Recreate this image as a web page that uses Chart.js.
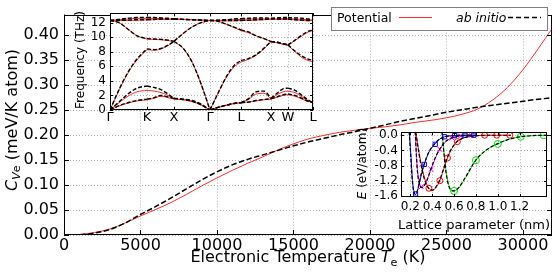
<!DOCTYPE html>
<html>
<head>
<meta charset="utf-8">
<script src="https://cdn.jsdelivr.net/npm/chart.js@4.4.1/dist/chart.umd.min.js"></script>
<style>
  html, body { margin: 0; padding: 0; background: #fff; }
  #wrap { position: relative; width: 556px; height: 278px; }
  canvas { position: absolute; }
</style>
</head>
<body>
<div id="wrap">
  <canvas id="main" width="556" height="278" style="left:0;top:0"></canvas>
  <canvas id="bands" width="256" height="126" style="left:66px;top:2px"></canvas>
  <canvas id="morse" width="200" height="114" style="left:352px;top:122px"></canvas>
</div>
<script>
const FONT = '"DejaVu Sans", sans-serif';

// ── main panel: electronic heat capacity ─────────────────────────────────────
const tempK = [0, 1000, 2000, 3000, 4000, 5000, 6000, 7000, 8000, 9000, 10000,
  11000, 12000, 13000, 14000, 15000, 16000, 17000, 18000, 19000, 20000,
  21000, 22000, 23000, 24000, 25000, 26000, 27000, 28000, 29000, 30000, 31000, 31900];
const cvPotential = [0, 0.001, 0.005, 0.012, 0.024, 0.038, 0.051, 0.065, 0.081, 0.098, 0.114,
  0.129, 0.143, 0.156, 0.170, 0.182, 0.192, 0.199, 0.205, 0.209, 0.213,
  0.216, 0.220, 0.225, 0.229, 0.234, 0.241, 0.251, 0.269, 0.295, 0.330, 0.372, 0.412];
const cvAbInitio = [0, 0.0005, 0.004, 0.011, 0.024, 0.041, 0.057, 0.074, 0.092, 0.110, 0.126,
  0.140, 0.151, 0.160, 0.169, 0.178, 0.186, 0.193, 0.200, 0.206, 0.213,
  0.220, 0.227, 0.233, 0.239, 0.245, 0.250, 0.255, 0.259, 0.263, 0.267, 0.271, 0.274];
const tempTicks = [0, 5000, 10000, 15000, 20000, 25000, 30000];
const cvTicks = [0, 0.05, 0.10, 0.15, 0.20, 0.25, 0.30, 0.35, 0.40];

// ── inset 1: phonon dispersion ───────────────────────────────────────────────
const pathX = [0, 9, 18, 27, 37, 44, 51, 58, 64, 73, 82, 91, 100, 108, 116, 124, 131,
  139, 146, 154, 161, 167, 173, 178, 185, 192, 198, 203];
const segEnds = [0, 4, 8, 12, 16, 20, 23, 27];
const symPos = [0, 37, 64, 100, 131, 161, 178, 203];
const symLabels = ['Γ', 'K', 'X', 'Γ', 'L', 'X', 'W', 'L'];
const freqTicks = [0, 2, 4, 6, 8, 10, 12];

const bandsAbInitio = [
  [12.3, 12.45, 12.6, 12.7, 12.7, 12.7, 12.65, 12.6, 12.5, 12.45, 12.4, 12.35, 12.3, 12.35, 12.4, 12.5, 12.55, 12.6, 12.65, 12.65, 12.6, 12.65, 12.7, 12.7, 12.65, 12.6, 12.5, 12.45],
  [12.3, 12.3, 12.35, 12.4, 12.4, 12.45, 12.5, 12.5, 12.5, 12.45, 12.4, 12.35, 12.3, 12.3, 12.3, 12.3, 12.3, 12.35, 12.4, 12.45, 12.5, 12.5, 12.5, 12.5, 12.4, 12.35, 12.3, 12.3],
  [12.3, 12.0, 11.1, 10.2, 9.8, 9.75, 9.7, 9.6, 9.45, 10.5, 11.4, 12.0, 12.3, 12.2, 11.8, 11.4, 11.0, 10.7, 10.2, 9.8, 9.4, 9.3, 9.1, 8.95, 9.6, 10.3, 10.8, 11.0],
  [0, 2.8, 5.2, 7.0, 8.4, 8.3, 8.45, 8.9, 9.45, 8.5, 6.6, 3.6, 0, 2.3, 4.5, 6.1, 6.8, 7.1, 7.6, 8.5, 9.4, 9.3, 9.1, 8.95, 8.1, 7.4, 7.0, 6.85],
  [0, 1.1, 2.2, 3.0, 3.3, 3.1, 2.8, 2.2, 1.6, 1.5, 1.3, 0.8, 0, 0.35, 0.65, 0.9, 1.0, 1.6, 2.5, 2.6, 1.6, 2.3, 2.9, 3.0, 2.7, 2.0, 1.4, 1.0],
  [0, 0.6, 1.0, 1.3, 1.5, 1.7, 2.0, 1.8, 1.6, 1.45, 1.2, 0.7, 0, 0.35, 0.65, 0.9, 1.0, 1.1, 1.3, 1.45, 1.55, 1.8, 2.1, 2.2, 2.0, 1.6, 1.2, 1.0],
];
const bandsPotential = [
  [12.3, 12.4, 12.5, 12.6, 12.6, 12.6, 12.55, 12.5, 12.5, 12.45, 12.4, 12.35, 12.3, 12.3, 12.35, 12.4, 12.45, 12.5, 12.5, 12.5, 12.5, 12.5, 12.55, 12.55, 12.5, 12.45, 12.4, 12.35],
  [12.3, 12.3, 12.3, 12.35, 12.4, 12.4, 12.45, 12.45, 12.5, 12.45, 12.4, 12.35, 12.3, 12.25, 12.25, 12.25, 12.3, 12.3, 12.35, 12.4, 12.5, 12.45, 12.45, 12.45, 12.4, 12.3, 12.25, 12.3],
  [12.3, 12.0, 11.1, 10.2, 9.75, 9.7, 9.65, 9.55, 9.4, 10.5, 11.4, 12.0, 12.3, 12.2, 11.8, 11.35, 10.9, 10.6, 10.2, 9.8, 9.4, 9.25, 9.05, 8.9, 9.55, 10.2, 10.7, 10.9],
  [0, 2.7, 5.1, 6.9, 8.3, 8.2, 8.4, 8.85, 9.4, 8.5, 6.6, 3.6, 0, 2.3, 4.4, 5.9, 6.6, 7.0, 7.5, 8.4, 9.4, 9.25, 9.05, 8.9, 8.0, 7.2, 6.8, 6.6],
  [0, 1.0, 1.9, 2.5, 2.7, 2.6, 2.4, 2.0, 1.5, 1.45, 1.25, 0.75, 0, 0.35, 0.65, 0.9, 1.0, 1.5, 2.2, 2.3, 1.5, 2.1, 2.5, 2.6, 2.4, 1.8, 1.3, 1.0],
  [0, 0.55, 0.95, 1.25, 1.4, 1.6, 1.9, 1.7, 1.5, 1.4, 1.15, 0.7, 0, 0.35, 0.65, 0.9, 1.0, 1.1, 1.25, 1.4, 1.5, 1.75, 2.0, 2.1, 1.9, 1.5, 1.2, 1.0],
];

// ── inset 2: binding curves ──────────────────────────────────────────────────
const latTicks = [0.2, 0.4, 0.6, 0.8, 1.0, 1.2];
const eTicks = [-1.6, -1.2, -0.8, -0.4, 0];

const aBlue = [0.19, 0.205, 0.22, 0.235, 0.248, 0.26, 0.28, 0.30, 0.328, 0.37, 0.428, 0.47, 0.513, 0.6, 0.7, 0.8];
const eBluePot = [0.1, -0.5, -1.2, -1.5, -1.56, -1.52, -1.3, -1.05, -0.77, -0.45, -0.22, -0.1, -0.04, -0.01, 0, 0];
const eBlueAb = [0.1, -0.6, -1.25, -1.52, -1.56, -1.5, -1.28, -1.02, -0.75, -0.44, -0.21, -0.1, -0.04, -0.01, 0, 0];
const mkBlueA = [0.248, 0.328, 0.428, 0.513, 0.605, 0.7, 0.78];
const mkBlueE = [-1.55, -0.77, -0.24, -0.04, -0.01, 0, 0];

const aMag = [0.245, 0.255, 0.265, 0.28, 0.30, 0.32, 0.35, 0.39, 0.43, 0.47, 0.52, 0.58, 0.65, 0.76];
const eMagPot = [0.1, -0.45, -0.9, -1.22, -1.36, -1.35, -1.2, -0.9, -0.6, -0.37, -0.18, -0.07, -0.02, 0];
const eMagAb = [0.1, -0.5, -0.95, -1.25, -1.38, -1.36, -1.2, -0.88, -0.58, -0.36, -0.17, -0.07, -0.02, 0];
const mkMagA = [0.30, 0.39, 0.47, 0.58, 0.66, 0.76];
const mkMagE = [-1.36, -0.9, -0.37, -0.07, -0.02, 0];

const aRed = [0.25, 0.28, 0.31, 0.34, 0.37, 0.40, 0.43, 0.47, 0.50, 0.54, 0.58, 0.63, 0.70, 0.80, 0.90, 1.12];
const eRedPot = [0.08, -0.45, -0.9, -1.22, -1.4, -1.45, -1.4, -1.2, -0.95, -0.6, -0.35, -0.17, -0.06, -0.015, 0, 0];
const eRedAb = [0.08, -0.5, -0.95, -1.25, -1.41, -1.45, -1.38, -1.17, -0.92, -0.58, -0.34, -0.16, -0.06, -0.015, 0, 0];
const mkRedA = [0.37, 0.47, 0.54, 0.63, 0.88, 0.99, 1.11];
const mkRedE = [-1.4, -1.2, -0.6, -0.17, 0, 0, 0];

const aGreen = [0.49, 0.51, 0.53, 0.56, 0.60, 0.64, 0.70, 0.80, 0.90, 1.00, 1.10, 1.21, 1.32, 1.45];
const eGreenPot = [0.1, -0.5, -1.0, -1.38, -1.47, -1.4, -1.15, -0.66, -0.38, -0.23, -0.11, -0.04, -0.01, 0];
const eGreenAb = [0.1, -0.55, -1.05, -1.4, -1.47, -1.39, -1.13, -0.65, -0.38, -0.22, -0.11, -0.04, -0.01, 0];
const mkGreenA = [0.6, 0.8, 1.0, 1.21, 1.42];
const mkGreenE = [-1.47, -0.66, -0.23, -0.04, 0];

// ── helpers ──────────────────────────────────────────────────────────────────
Chart.defaults.font.family = FONT;
Chart.defaults.color = '#000';

const pts = (xs, ys) => xs.map((v, i) => ({ x: v, y: ys[i] }));
const fixedTicks = (vals) => (s) => { s.ticks = vals.map((v) => ({ value: v })); };

/** draw a run of text pieces centred on x, baseline y; {t, i: italic, sub} */
function drawRich(ctx, parts, x, y, size) {
  const fontOf = (p) => `${p.i ? 'italic ' : ''}${p.sub ? size * 0.7 : size}px ${FONT}`;
  let w = 0;
  for (const p of parts) { ctx.font = fontOf(p); w += ctx.measureText(p.t).width; }
  let cx = x - w / 2;
  ctx.textAlign = 'left';
  ctx.textBaseline = 'alphabetic';
  ctx.fillStyle = '#000';
  for (const p of parts) {
    ctx.font = fontOf(p);
    ctx.fillText(p.t, cx, y + (p.sub ? size * 0.22 : 0));
    cx += ctx.measureText(p.t).width;
  }
}

function drawRichV(ctx, parts, x, y, size) {
  ctx.save();
  ctx.translate(x, y);
  ctx.rotate(-Math.PI / 2);
  drawRich(ctx, parts, 0, 0, size);
  ctx.restore();
}

// matplotlib-ish frame: white axes patch, dotted grid, box with inward ticks
const mplAxes = {
  id: 'mplAxes',
  beforeDatasetsDraw(chart, args, opts) {
    const { ctx, chartArea: a } = chart;
    const { x, y } = chart.scales;
    ctx.save();
    if (opts.fill) {
      ctx.fillStyle = '#fff';
      ctx.fillRect(a.left, a.top, a.right - a.left, a.bottom - a.top);
    }
    ctx.strokeStyle = '#b4b4b4';
    ctx.lineWidth = 1;
    ctx.setLineDash([1, 2]);
    ctx.beginPath();
    x.ticks.forEach((t) => {
      const p = Math.round(x.getPixelForValue(t.value)) + 0.5;
      ctx.moveTo(p, a.top); ctx.lineTo(p, a.bottom);
    });
    y.ticks.forEach((t) => {
      const p = Math.round(y.getPixelForValue(t.value)) + 0.5;
      ctx.moveTo(a.left, p); ctx.lineTo(a.right, p);
    });
    ctx.stroke();
    ctx.restore();
  },
  afterDatasetsDraw(chart, args, opts) {
    const { ctx, chartArea: a } = chart;
    const { x, y } = chart.scales;
    const len = opts.tickLen || 4;
    ctx.save();
    ctx.strokeStyle = '#000';
    ctx.lineWidth = 1;
    ctx.beginPath();
    x.ticks.forEach((t) => {
      const p = Math.round(x.getPixelForValue(t.value)) + 0.5;
      ctx.moveTo(p, a.bottom); ctx.lineTo(p, a.bottom - len);
      ctx.moveTo(p, a.top); ctx.lineTo(p, a.top + len);
    });
    y.ticks.forEach((t) => {
      const p = Math.round(y.getPixelForValue(t.value)) + 0.5;
      ctx.moveTo(a.left, p); ctx.lineTo(a.left + len, p);
      ctx.moveTo(a.right, p); ctx.lineTo(a.right - len, p);
    });
    ctx.stroke();
    ctx.strokeRect(Math.round(a.left) + 0.5, Math.round(a.top) + 0.5,
      Math.round(a.right - a.left) - 1, Math.round(a.bottom - a.top) - 1);
    ctx.restore();
  },
};
Chart.register(mplAxes);

const baseOptions = {
  responsive: false,
  animation: false,
  devicePixelRatio: 1,
  elements: { point: { radius: 0 }, line: { cubicInterpolationMode: 'monotone', fill: false } },
};

// ── main chart ───────────────────────────────────────────────────────────────
const mainDeco = {
  id: 'mainDeco',
  afterDraw(chart) {
    const { ctx } = chart;
    drawRich(ctx, [{ t: 'Electronic Temperature ' }, { t: 'T', i: 1 }, { t: 'e', sub: 1 }, { t: ' (K)' }], 308, 262, 16);
    drawRichV(ctx, [{ t: 'C', i: 1 }, { t: 'V', i: 1, sub: 1 }, { t: 'e', sub: 1 }, { t: ' (meV/K atom)' }], 16.5, 120, 16);

    // legend
    ctx.save();
    ctx.fillStyle = '#fff';
    ctx.fillRect(331, 7, 217, 24);
    ctx.strokeStyle = '#808080';
    ctx.lineWidth = 1;
    ctx.strokeRect(331.5, 7.5, 216, 23);
    ctx.fillStyle = '#000';
    ctx.textBaseline = 'alphabetic';
    ctx.textAlign = 'left';
    ctx.font = `12.5px ${FONT}`;
    ctx.fillText('Potential', 337, 22);
    ctx.font = `italic 12.5px ${FONT}`;
    ctx.fillText('ab initio', 456, 22);
    ctx.beginPath();
    ctx.strokeStyle = '#ff2a2a';
    ctx.moveTo(399, 17.5); ctx.lineTo(432, 17.5);
    ctx.stroke();
    ctx.beginPath();
    ctx.strokeStyle = '#000';
    ctx.lineWidth = 1.5;
    ctx.setLineDash([5, 3]);
    ctx.moveTo(508, 17.5); ctx.lineTo(541, 17.5);
    ctx.stroke();
    ctx.restore();
  },
};

new Chart(document.getElementById('main'), {
  type: 'line',
  data: {
    datasets: [
      { data: pts(tempK, cvAbInitio), borderColor: '#000', borderWidth: 1.5, borderDash: [5.5, 2.5] },
      { data: pts(tempK, cvPotential), borderColor: '#ff2a2a', borderWidth: 1 },
    ],
  },
  options: {
    ...baseOptions,
    layout: { padding: { left: 0, top: 4, right: 4, bottom: 0 } },
    plugins: { legend: { display: false }, tooltip: { enabled: false }, mplAxes: { tickLen: 5 } },
    scales: {
      x: {
        type: 'linear', min: 0, max: 31900,
        grid: { display: false, drawTicks: false }, border: { display: false },
        afterBuildTicks: fixedTicks(tempTicks),
        afterFit: (s) => { s.height = 43; },
        ticks: { autoSkip: false, maxRotation: 0, minRotation: 0, padding: 1.5, font: { size: 16 }, callback: (v) => String(v) },
      },
      y: {
        type: 'linear', min: 0, max: 0.44,
        grid: { display: false, drawTicks: false }, border: { display: false },
        afterBuildTicks: fixedTicks(cvTicks),
        afterFit: (s) => { s.width = 64; },
        ticks: { autoSkip: false, padding: 5, font: { size: 16 }, callback: (v) => v.toFixed(2) },
      },
    },
  },
  plugins: [mainDeco],
});

// ── phonon inset ─────────────────────────────────────────────────────────────
function bandDatasets(bands, color, dash, width) {
  const out = [];
  bands.forEach((freq) => {
    for (let s = 0; s < segEnds.length - 1; s++) {
      const seg = [];
      for (let i = segEnds[s]; i <= segEnds[s + 1]; i++) seg.push({ x: pathX[i], y: freq[i] });
      out.push({ data: seg, borderColor: color, borderWidth: width, borderDash: dash });
    }
  });
  return out;
}

new Chart(document.getElementById('bands'), {
  type: 'line',
  data: {
    datasets: [
      ...bandDatasets(bandsAbInitio, '#000', [4, 2], 1.4),
      ...bandDatasets(bandsPotential, '#ff2a2a', [], 1),
    ],
  },
  options: {
    ...baseOptions,
    layout: { padding: { left: 0, top: 8, right: 9, bottom: 0 } },
    plugins: { legend: { display: false }, tooltip: { enabled: false }, mplAxes: { tickLen: 3, fill: true } },
    scales: {
      x: {
        type: 'linear', min: 0, max: 203,
        grid: { display: false, drawTicks: false }, border: { display: false },
        afterBuildTicks: fixedTicks(symPos),
        afterFit: (s) => { s.height = 18; },
        ticks: { autoSkip: false, maxRotation: 0, minRotation: 0, padding: 0, font: { size: 13 }, callback: (v, i) => symLabels[i] },
      },
      y: {
        type: 'linear', min: 0, max: 13.3,
        grid: { display: false, drawTicks: false }, border: { display: false },
        afterBuildTicks: fixedTicks(freqTicks),
        afterFit: (s) => { s.width = 44; },
        ticks: { autoSkip: false, padding: 4, font: { size: 12 }, callback: (v) => String(v) },
      },
    },
  },
  plugins: [{
    id: 'bandsDeco',
    afterDraw(chart) {
      drawRichV(chart.ctx, [{ t: 'Frequency (THz)' }], 18, 58, 12);
    },
  }],
});

// ── binding-energy inset ─────────────────────────────────────────────────────
const curve = (xs, ys, color, dash, width) => ({ data: pts(xs, ys), borderColor: color, borderWidth: width, borderDash: dash });
const marks = (xs, ys, color, style, r) => ({
  data: pts(xs, ys), showLine: false, pointStyle: style, pointRadius: r,
  pointBorderColor: color, pointBackgroundColor: 'rgba(0,0,0,0)', pointBorderWidth: 1, borderColor: color,
});

new Chart(document.getElementById('morse'), {
  type: 'line',
  data: {
    datasets: [
      curve(aBlue, eBlueAb, '#000', [3.5, 2], 1.2),
      curve(aMag, eMagAb, '#000', [3.5, 2], 1.2),
      curve(aRed, eRedAb, '#000', [3.5, 2], 1.2),
      curve(aGreen, eGreenAb, '#000', [3.5, 2], 1.2),
      marks(mkBlueA, mkBlueE, '#0000ff', 'rect', 3),
      marks(mkMagA, mkMagE, '#ff00ff', 'crossRot', 3.5),
      marks(mkRedA, mkRedE, '#ff0000', 'circle', 3),
      marks(mkGreenA, mkGreenE, '#00e000', 'circle', 3.5),
      curve(aBlue, eBluePot, '#0000ff', [], 1),
      curve(aMag, eMagPot, '#ff00ff', [], 1),
      curve(aRed, eRedPot, '#ff0000', [], 1),
      curve(aGreen, eGreenPot, '#00e000', [], 1),
    ],
  },
  options: {
    ...baseOptions,
    layout: { padding: { left: 0, top: 8, right: 5, bottom: 0 } },
    plugins: { legend: { display: false }, tooltip: { enabled: false }, mplAxes: { tickLen: 3, fill: true } },
    scales: {
      x: {
        type: 'linear', min: 0.115, max: 1.45,
        grid: { display: false, drawTicks: false }, border: { display: false },
        afterBuildTicks: fixedTicks(latTicks),
        afterFit: (s) => { s.height = 39; },
        ticks: { autoSkip: false, maxRotation: 0, minRotation: 0, padding: 3, font: { size: 12 }, callback: (v) => v.toFixed(1) },
      },
      y: {
        type: 'linear', min: -1.63, max: 0.08,
        grid: { display: false, drawTicks: false }, border: { display: false },
        afterBuildTicks: fixedTicks(eTicks),
        afterFit: (s) => { s.width = 49; },
        ticks: { autoSkip: false, padding: 3, font: { size: 12 }, callback: (v) => v.toFixed(1) },
      },
    },
  },
  plugins: [{
    id: 'morseDeco',
    afterDraw(chart) {
      const { ctx } = chart;
      drawRich(ctx, [{ t: 'Lattice parameter (nm)' }], 122, 107, 13);
      drawRichV(ctx, [{ t: 'E', i: 1 }, { t: ' (eV/atom)' }], 14, 41.5, 12);
    },
  }],
});
</script>
</body>
</html>
